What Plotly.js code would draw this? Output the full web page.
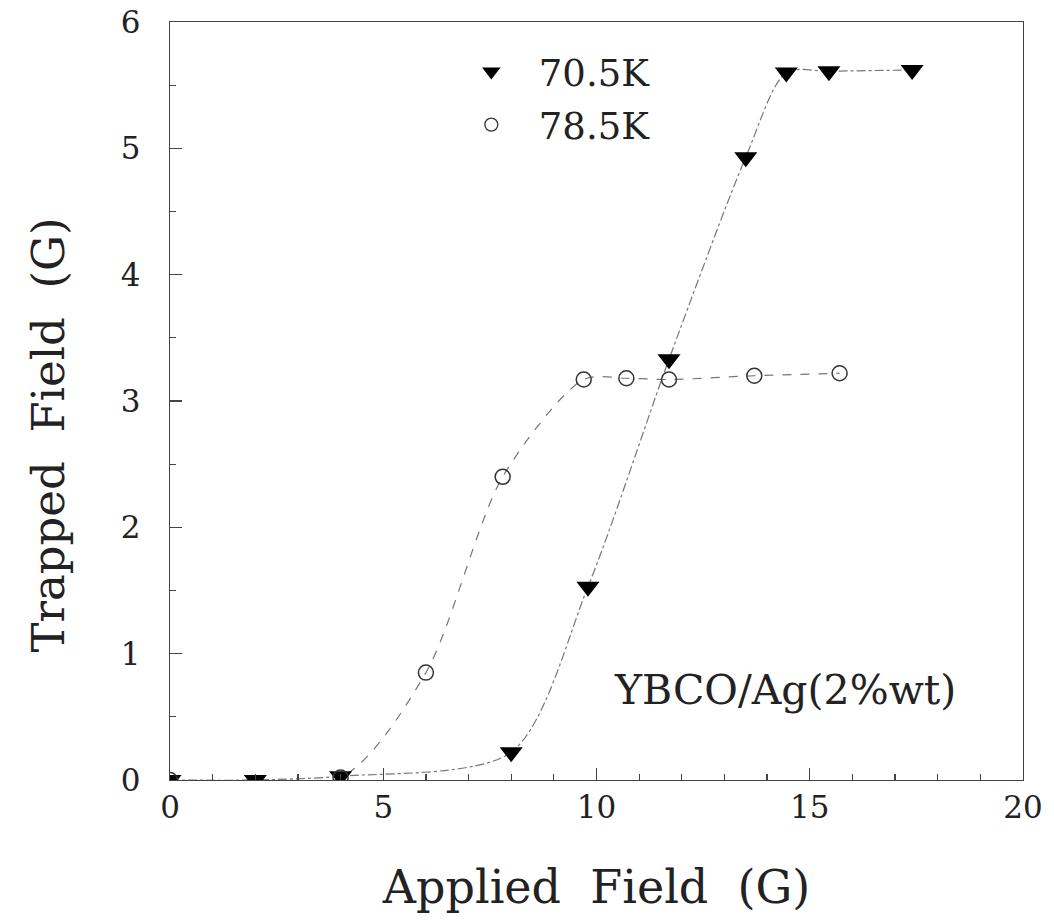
<!DOCTYPE html>
<html>
<head>
<meta charset="utf-8">
<script src="https://cdn.plot.ly/plotly-3.0.1.min.js"></script>
<style>html,body{margin:0;padding:0;background:#fff;}#chart{width:1054px;height:921px;}</style>
</head>
<body>
<div id="chart"></div>
<script>
// 70.5K series (filled down-triangles)
const field705 = [0, 2, 4, 8, 9.8, 11.7, 13.5, 14.45, 15.45, 17.4];
const trap705  = [0, 0, 0.03, 0.22, 1.53, 3.33, 4.93, 5.6, 5.61, 5.62];
// 78.5K series (open circles)
const field785 = [0, 4, 6, 7.8, 9.7, 10.7, 11.7, 13.7, 15.7];
const trap785  = [0, 0.02, 0.85, 2.4, 3.17, 3.18, 3.17, 3.2, 3.22];
const legendNames = ["70.5K", "78.5K"];
const xTicks = [0, 5, 10, 15, 20];
const yTicks = [0, 1, 2, 3, 4, 5, 6];
const noteText = "YBCO/Ag(2%wt)";
const xTitle = "Applied  Field  (G)";
const yTitle = "Trapped  Field  (G)";

const serif = "DejaVu Serif, Liberation Serif, serif";

const traces = [
  {x: field705, y: trap705, mode: "lines", line: {shape: "spline", smoothing: 0.8, color: "#777", width: 1.2, dash: "dashdot"}, showlegend: false, hoverinfo: "skip"},
  {x: field785, y: trap785, mode: "lines", line: {shape: "spline", smoothing: 0.8, color: "#777", width: 1.2, dash: "dash"}, showlegend: false, hoverinfo: "skip"},
  {x: field705, y: trap705, mode: "markers", marker: {symbol: "triangle-down", size: 20, color: "#000"}, showlegend: false},
  {x: field785, y: trap785, mode: "markers", marker: {symbol: "circle-open", size: 15, color: "#333", line: {width: 1.5, color: "#333"}}, showlegend: false},
  {x: [null], y: [null], mode: "markers", name: legendNames[0], legendgroup: "a", marker: {symbol: "triangle-down", size: 20, color: "#000"}},
  {x: [null], y: [null], mode: "markers", name: legendNames[1], legendgroup: "b", marker: {symbol: "circle-open", size: 13, color: "#333", line: {width: 1.3, color: "#333"}}}
];

const layout = {
  width: 1054, height: 921,
  margin: {l: 170, r: 31, t: 22, b: 141},
  paper_bgcolor: "#fff", plot_bgcolor: "#fff",
  font: {family: serif, color: "#111", size: 30},
  showlegend: true,
  legend: {x: 0.321, y: 0.975, xanchor: "left", yanchor: "top", bgcolor: "rgba(0,0,0,0)",
           font: {family: serif, size: 37, color: "#222"}, traceorder: "grouped", tracegroupgap: 2, itemwidth: 85},
  xaxis: {
    range: [0, 20], tickvals: xTicks, ticktext: xTicks.map(String),
    showgrid: false, zeroline: false, showline: true, mirror: true,
    linecolor: "#444", linewidth: 1.2,
    ticks: "inside", ticklen: 12, tickwidth: 1.2, tickcolor: "#444",
    minor: {dtick: 1, ticks: "inside", ticklen: 6, tickcolor: "#444", showgrid: false},
    tickfont: {family: serif, size: 31, color: "#222"},
    title: {text: xTitle, font: {family: serif, size: 46, color: "#222"}, standoff: 46}
  },
  yaxis: {
    range: [0, 6], tickvals: yTicks, ticktext: yTicks.map(String),
    showgrid: false, zeroline: false, showline: true, mirror: true,
    linecolor: "#444", linewidth: 1.2,
    ticks: "inside", ticklen: 12, tickwidth: 1.2, tickcolor: "#444",
    ticklabelstandoff: 22,
    minor: {dtick: 0.5, ticks: "inside", ticklen: 6, tickcolor: "#444", showgrid: false},
    tickfont: {family: serif, size: 31, color: "#222"}
  },
  annotations: [
    {text: noteText, x: 0.924, y: 0.119, xref: "paper", yref: "paper", xanchor: "right", yanchor: "middle",
     showarrow: false, font: {family: serif, size: 41, color: "#222"}},
    {text: yTitle, textangle: -90, x: 0, y: 0.455, xref: "paper", yref: "paper", xshift: -150,
     showarrow: false, font: {family: serif, size: 45, color: "#222"}}
  ]
};

Plotly.newPlot("chart", traces, layout, {displayModeBar: false, staticPlot: true});
</script>
</body>
</html>
